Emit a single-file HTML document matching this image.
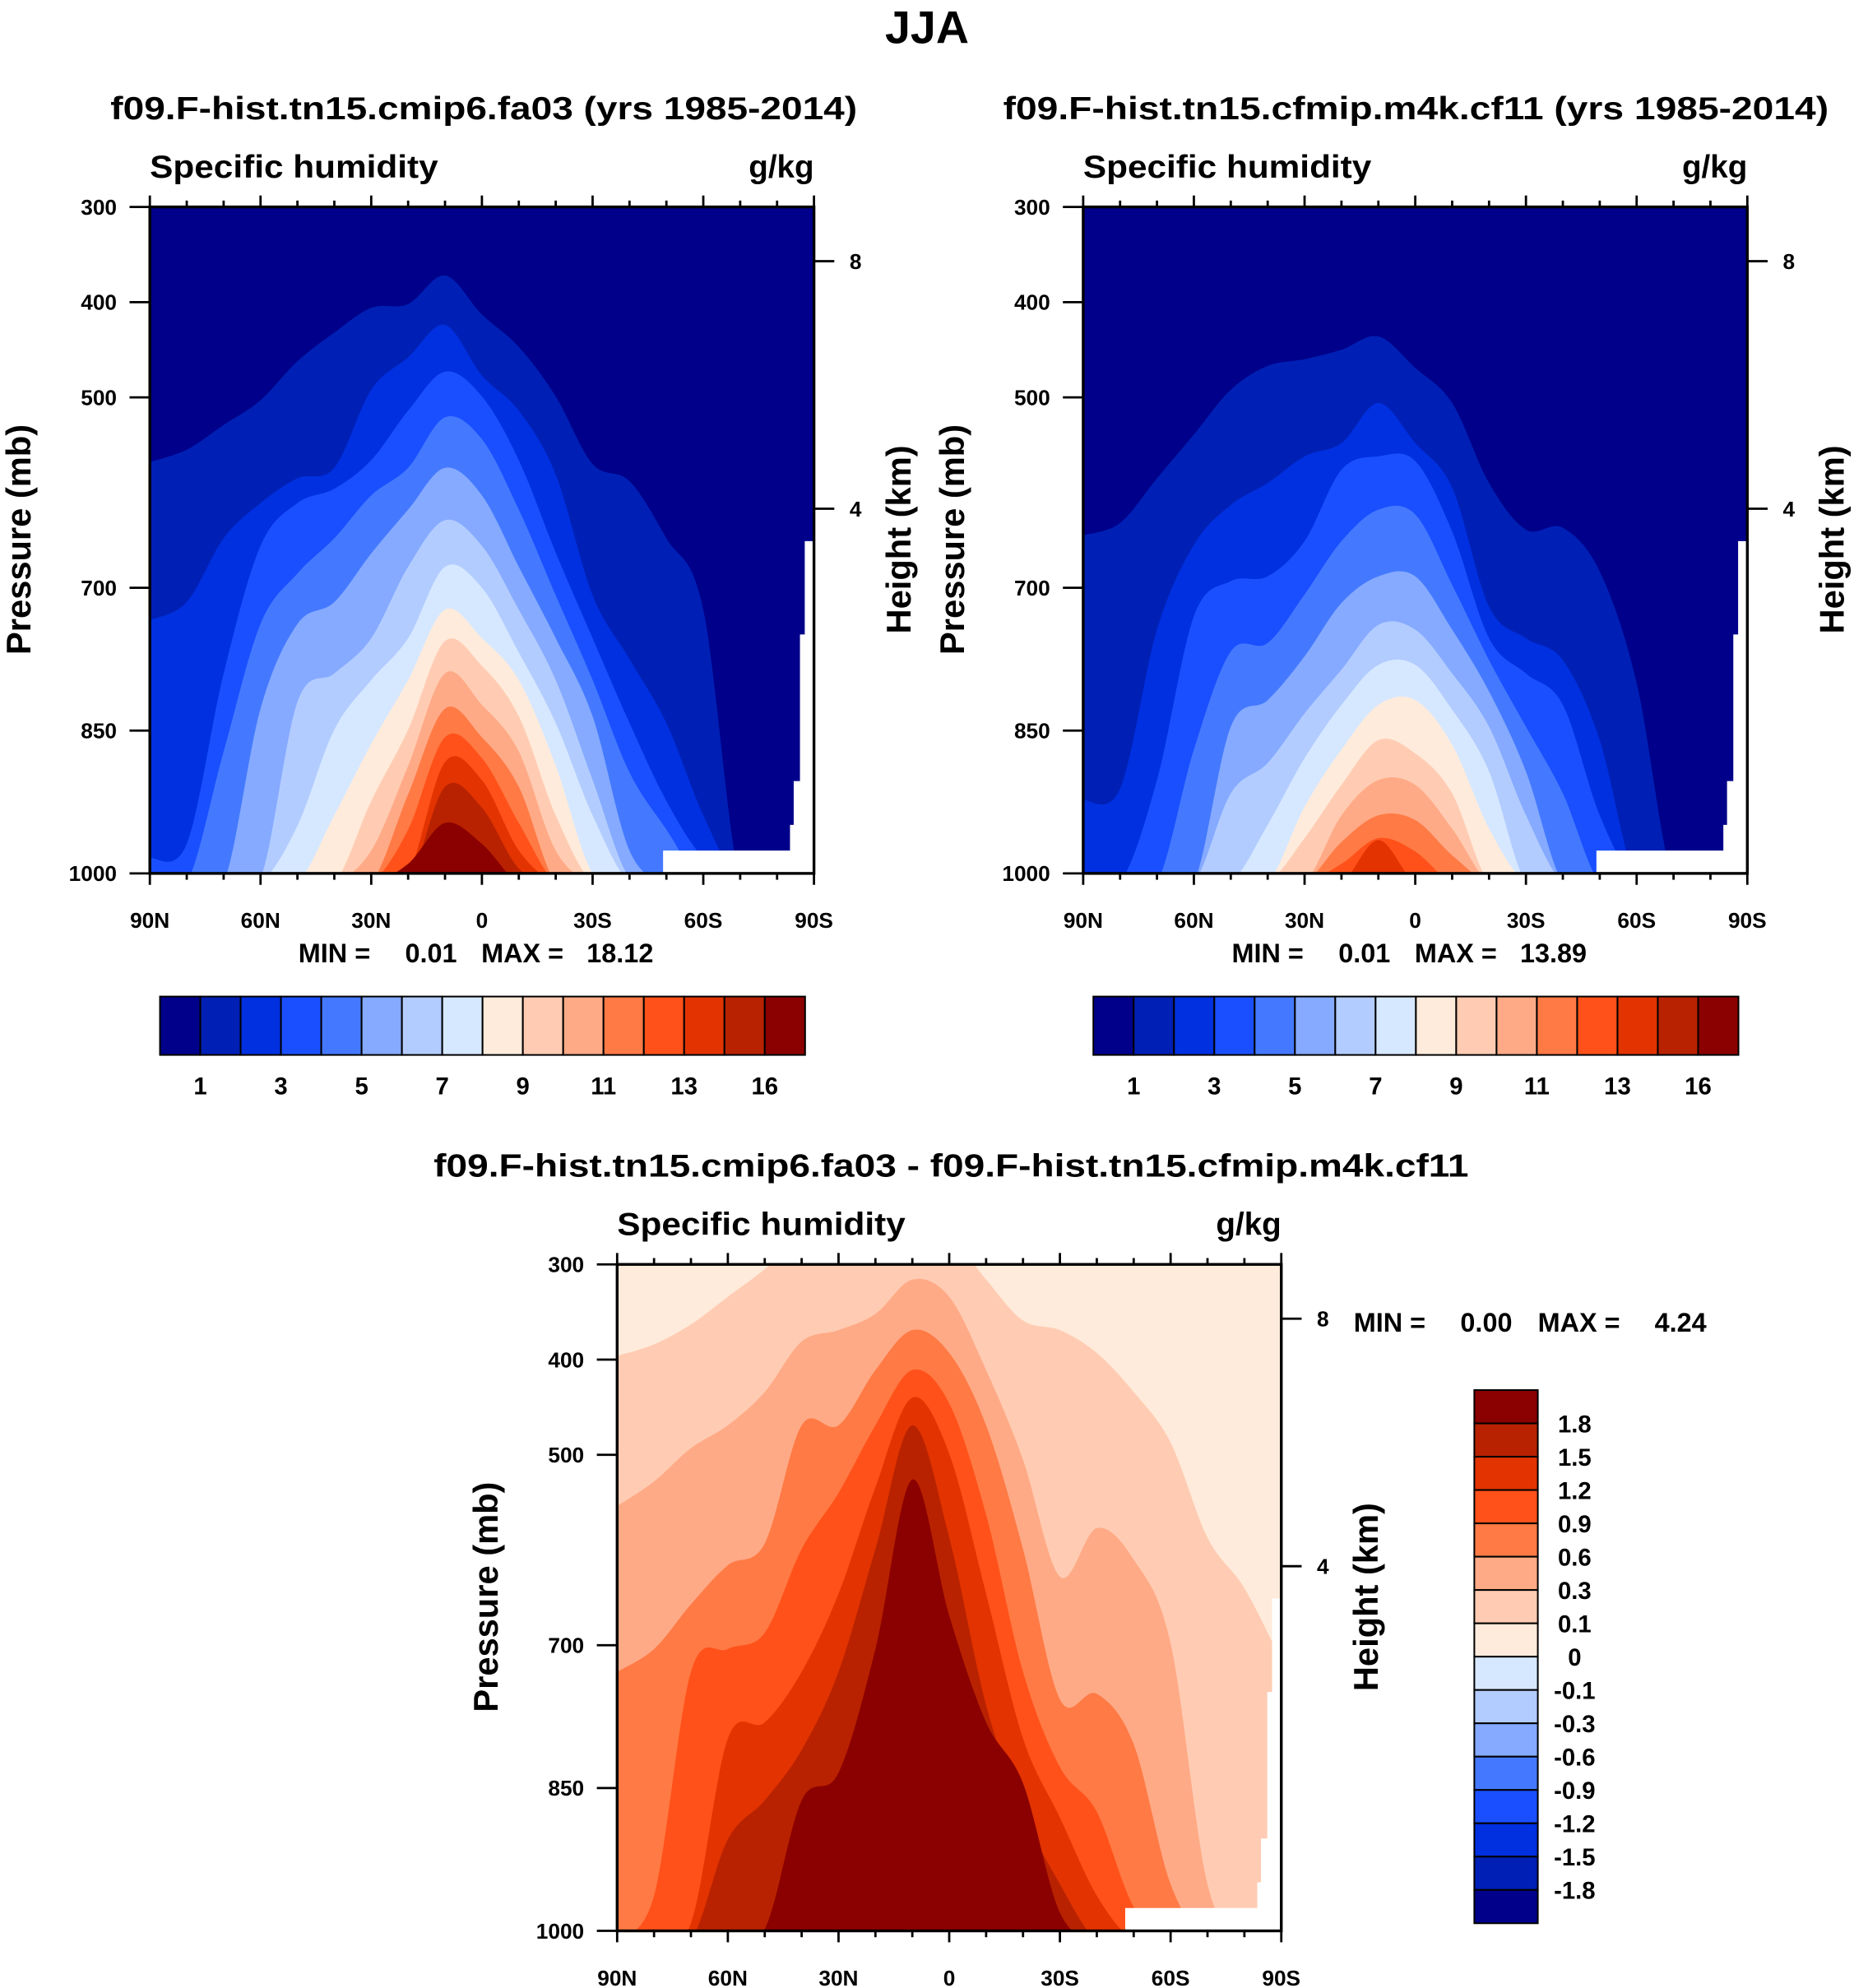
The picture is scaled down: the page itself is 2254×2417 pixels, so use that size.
<!DOCTYPE html>
<html><head><meta charset="utf-8"><style>
html,body{margin:0;padding:0;background:#fff}
svg{display:block}
text{font-family:"Liberation Sans",Arial,sans-serif;font-weight:bold;fill:#000}
</style></head><body>
<svg id="chart" xmlns="http://www.w3.org/2000/svg" width="2254" height="2417" viewBox="0 0 1460 1566" preserveAspectRatio="none">
<text x="730" y="34" text-anchor="middle" font-size="36">JJA</text>
</svg>
<script>
// ---- data ----
const lats = [90,80,70,60,50,40,30,20,10,0,-10,-20,-30,-40,-50,-60,-70,-80,-90];
const xTickLabels = ['90N','60N','30N','0','30S','60S','90S'];
const xTickLats = [90,60,30,0,-30,-60,-90];
const pTicks = [300,400,500,700,850,1000];
const hTicks = [8,4];
const hTickP = [357,617];
const colors = ['#00008A','#0020B5','#0030E0','#1A4FFF','#4479FF','#85AAFF','#B3CCFF','#D6E8FF','#FFEBDB','#FFCCB3','#FFAA86','#FF7A45','#FF5119','#E23300','#B82200','#8B0000'];
const absLabels = ['1','3','5','7','9','11','13','16'];
const absLabelIdx = [1,3,5,7,9,11,13,15];
const diffLabels = ['1.8','1.5','1.2','0.9','0.6','0.3','0.1','0','-0.1','-0.3','-0.6','-0.9','-1.2','-1.5','-1.8'];
const X = 1010;
const leftLevels = [
 [568,555,529,503,462,432,406,402,372,413,447,499,570,588,648,723,X,X,X],
 [734,715,648,611,585,574,492,458,424,477,514,581,708,775,842,939,X,X,X],
 [984,969,790,656,611,596,566,514,473,499,566,663,753,842,924,984,X,X,X],
 [X,X,872,738,685,648,603,574,521,544,618,708,797,894,954,X,X,X,X],
 [X,X,X,827,738,715,664,618,574,603,678,753,835,976,X,X,X,X,X],
 [X,X,X,1005,820,790,753,678,629,656,723,797,902,1005,X,X,X,X,X],
 [X,X,X,X,950,849,797,753,678,700,768,842,939,X,X,X,X,X,X],
 [X,X,X,X,X,939,864,797,723,753,797,887,1000,X,X,X,X,X,X],
 [X,X,X,X,X,X,924,849,756,782,835,939,X,X,X,X,X,X,X],
 [X,X,X,X,X,X,976,887,790,823,872,976,X,X,X,X,X,X,X],
 [X,X,X,X,X,X,X,917,827,857,909,X,X,X,X,X,X,X,X],
 [X,X,X,X,X,X,X,954,857,879,947,X,X,X,X,X,X,X,X],
 [X,X,X,X,X,X,X,1000,883,902,976,X,X,X,X,X,X,X,X],
 [X,X,X,X,X,X,X,X,909,931,995,X,X,X,X,X,X,X,X],
 [X,X,X,X,X,X,X,990,947,969,X,X,X,X,X,X,X,X,X]
];
const rightLevels = [
 [645,632,585,539,492,467,460,450,436,469,506,590,639,637,683,800,X,X,X],
 [923,911,744,655,613,590,562,548,506,548,595,720,753,776,860,X,X,X,X],
 [X,X,902,730,693,688,651,576,562,567,641,753,790,823,939,X,X,X,X],
 [X,X,X,870,767,758,707,651,618,623,697,776,846,916,X,X,X,X,X],
 [X,X,X,X,846,818,772,716,688,688,744,809,893,X,X,X,X,X,X],
 [X,X,X,X,916,884,832,786,739,744,790,846,939,X,X,X,X,X,X],
 [X,X,X,X,X,949,879,823,781,781,828,893,X,X,X,X,X,X,X],
 [X,X,X,X,X,X,930,870,823,818,865,953,X,X,X,X,X,X,X],
 [X,X,X,X,X,X,963,907,860,874,916,X,X,X,X,X,X,X,X],
 [X,X,X,X,X,X,X,939,902,907,953,X,X,X,X,X,X,X,X],
 [X,X,X,X,X,X,X,967,939,944,981,X,X,X,X,X,X,X,X],
 [X,X,X,X,X,X,X,990,963,977,X,X,X,X,X,X,X,X,X],
 [X,X,X,X,X,X,X,X,965,X,X,X,X,X,X,X,X,X,X]
];
const diffLevels = [
 [396,384,363,334,305,270,270,270,270,270,316,359,369,393,434,487,587,640,716],
 [554,528,493,469,434,381,369,352,316,334,411,505,628,577,610,698,951,X,X],
 [728,704,657,616,593,469,469,411,369,393,469,599,757,751,804,951,X,X,X],
 [X,963,728,704,687,599,540,469,411,446,563,728,828,875,975,X,X,X,X],
 [X,X,992,798,781,728,646,534,440,499,646,798,881,963,X,X,X,X,X],
 [X,X,X,904,863,810,728,599,469,587,763,875,951,X,X,X,X,X,X],
 [X,X,X,X,998,863,834,704,526,669,781,845,981,X,X,X,X,X,X]
];
const maskLat = [-49.1,-49.1,-83.5,-83.5,-84.5,-84.5,-86.2,-86.2,-87.5,-87.5,-90,-90];
const maskP = [1000,976,976,949,949,903,903,749,749,651,651,1000];

const NS='http://www.w3.org/2000/svg';
const svg=document.getElementById('chart');
function mk(tag,attrs,parent){const e=document.createElementNS(NS,tag);for(const k in attrs)e.setAttribute(k,attrs[k]);(parent||svg).appendChild(e);return e;}
function txt(s,x,y,size,anchor,parent,extra){const e=mk('text',Object.assign({x:x,y:y,'font-size':size,'text-anchor':anchor||'start'},extra||{}),parent);e.textContent=s;return e;}

let clipId=0;
function panel(name,x0,y0,bg,levels,firstColor,mask){
  const W=523,H=525;
  const xs=lat=>x0+(90-lat)/180*W;
  const ys=p=>y0+(p-300)/700*H;
  const g=mk('g',{});
  
  
  const cid='clip'+(clipId++);
  const cp=mk('clipPath',{id:cid},g);
  mk('rect',{x:x0,y:y0,width:W,height:H},cp);
  const fg=mk('g',{'clip-path':'url(#'+cid+')'},g);
  const bgr=mk('rect',{x:x0,y:y0,width:W,height:H,fill:bg},fg);
  
  
  levels.forEach((arr,k)=>{
    const pts=arr.map((p,i)=>[xs(lats[i]),ys(p)]);
    let d='M'+(x0-5)+','+(y0+H+20)+' L'+(x0-5)+','+pts[0][1]+' L'+pts[0][0]+','+pts[0][1];
    for(let i=0;i<pts.length-1;i++){
      const p0=pts[Math.max(0,i-1)],p1=pts[i],p2=pts[i+1],p3=pts[Math.min(pts.length-1,i+2)];
      const c1=[p1[0]+(p2[0]-p0[0])/6,p1[1]+(p2[1]-p0[1])/6];
      const c2=[p2[0]-(p3[0]-p1[0])/6,p2[1]-(p3[1]-p1[1])/6];
      d+=' C'+c1[0]+','+c1[1]+' '+c2[0]+','+c2[1]+' '+p2[0]+','+p2[1];
    }
    d+=' L'+(x0+W+5)+','+pts[pts.length-1][1]+' L'+(x0+W+5)+','+(y0+H+20)+' Z';
    const path=mk('path',{d:d,fill:colors[firstColor+k]},fg);
    
    
  });
  const mpts=maskLat.map((l,i)=>(mask!==undefined&&i<2?xs(mask):xs(l))+','+ys(maskP[i])).join(' ');
  const m=mk('polygon',{points:mpts,fill:'#fff'},fg);
  
  
  const fr=mk('rect',{x:x0,y:y0,width:W,height:H,fill:'none',stroke:'#000','stroke-width':2.2},g);
  
  
  for(let lat=90;lat>=-90;lat-=10){
    const major=lat%30===0, L=major?9:5, x=xs(lat);
    mk('line',{x1:x,y1:y0,x2:x,y2:y0-L,stroke:'#000','stroke-width':1.8},g);
    mk('line',{x1:x,y1:y0+H,x2:x,y2:y0+H+L,stroke:'#000','stroke-width':1.8},g);
  }
  xTickLabels.forEach((s,i)=>{
    const t=txt(s,xs(xTickLats[i]),y0+H+43,17,'middle',g);
    
    
  });
  pTicks.forEach(p=>{
    mk('line',{x1:x0,y1:ys(p),x2:x0-16,y2:ys(p),stroke:'#000','stroke-width':1.8},g);
    const t=txt(String(p),x0-26,ys(p)+6,17,'end',g);
    
    
  });
  hTicks.forEach((h,i)=>{
    mk('line',{x1:x0+W,y1:ys(hTickP[i]),x2:x0+W+16,y2:ys(hTickP[i]),stroke:'#000','stroke-width':1.8},g);
    const t=txt(String(h),x0+W+28,ys(hTickP[i])+6,17,'start',g);
    
    
  });
  const a=txt('Specific humidity',x0,y0-23,25,'start',g,{textLength:227,lengthAdjust:'spacingAndGlyphs'});
  
  
  const u=txt('g/kg',x0+W,y0-23,25,'end',g);
  
  
  const yt=txt('Pressure (mb)',0,0,27,'middle',g,{transform:'translate('+(x0-94)+','+(y0+262)+') rotate(-90)'});
  
  
  const ht=txt('Height (km)',0,0,27,'middle',g,{transform:'translate('+(x0+W+76)+','+(y0+262)+') rotate(-90)'});
  
  
  return g;
}

function hbar(x0,y0){
  const g=mk('g',{});
  
  
  const w=508/16;
  colors.forEach((c,i)=>{
    const r=mk('rect',{x:x0+i*w,y:y0,width:w,height:46,fill:c,stroke:'#000','stroke-width':1.3},g);
    
    
  });
  absLabels.forEach((s,i)=>{
    const t=txt(s,x0+absLabelIdx[i]*w,y0+77,19,'middle',g);
    
    
  });
}
function minmax(parts,xsPos,y){
  parts.forEach((s,i)=>{
    const t=txt(s,xsPos[i],y,21,'start');
    
    
  });
}

let t;
t=txt('f09.F-hist.tn15.cmip6.fa03 (yrs 1985-2014)',381,94,25,'middle',svg,{textLength:588,lengthAdjust:'spacingAndGlyphs'});


t=txt('f09.F-hist.tn15.cfmip.m4k.cf11 (yrs 1985-2014)',1115,94,25,'middle',svg,{textLength:650,lengthAdjust:'spacingAndGlyphs'});


t=txt('f09.F-hist.tn15.cmip6.fa03 - f09.F-hist.tn15.cfmip.m4k.cf11',749,927,25,'middle',svg,{textLength:815,lengthAdjust:'spacingAndGlyphs'});



panel('control-panel',118,163,colors[0],leftLevels,1);
panel('experiment-panel',853,163,colors[0],rightLevels,1);
panel('difference-panel',486,996,colors[8],diffLevels,9,-47.7);

minmax(['MIN =','0.01','MAX =','18.12'],[235,319,379,462],758);
minmax(['MIN =','0.01','MAX =','13.89'],[970,1054,1114,1197],758);
minmax(['MIN =','0.00','MAX =','4.24'],[1066,1150,1211,1303],1049);
hbar(126,785);
hbar(861,785);

(function(){
  const g=mk('g',{});
  
  
  const h=420/16;
  for(let i=0;i<16;i++){
    const r=mk('rect',{x:1161,y:1095+i*h,width:50,height:h,fill:colors[15-i],stroke:'#000','stroke-width':1.3},g);
    
    
  }
  diffLabels.forEach((s,i)=>{
    const tt=txt(s,1240,1095+(i+1)*h+7,19,'middle',g);
    
    
  });
})();
</script>
</body></html>
